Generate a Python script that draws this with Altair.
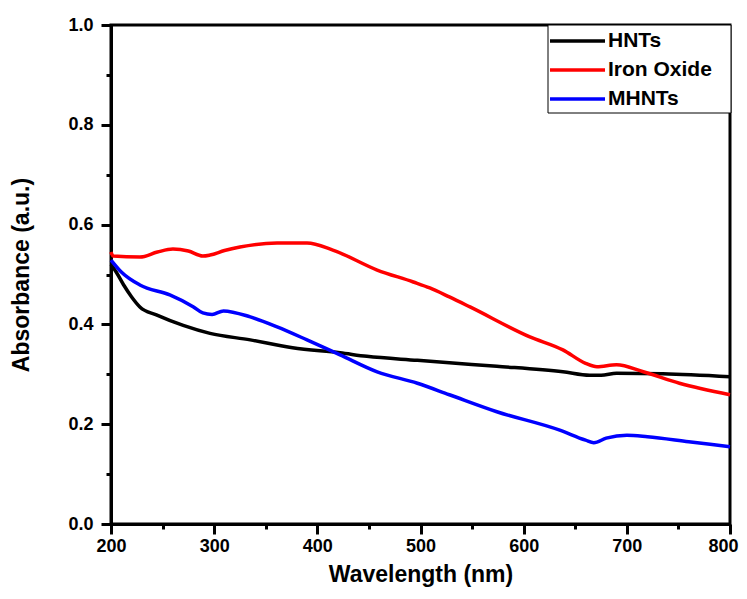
import altair as alt
import pandas as pd

series_names = ["HNTs", "Iron Oxide", "MHNTs"]
series_colors = ["#000000", "#ff0000", "#0000ff"]

hnts_x = [200, 205, 212, 220, 228, 244, 270, 296, 335, 376, 422, 448, 497, 528, 574, 638, 664, 675, 690, 735, 800]
hnts_y = [0.52, 0.505, 0.48, 0.455, 0.435, 0.419, 0.398, 0.382, 0.369, 0.353, 0.343, 0.336, 0.328, 0.323, 0.316, 0.305, 0.298, 0.298, 0.302, 0.301, 0.295]

iron_x = [200, 202, 228, 245, 260, 275, 289, 296, 310, 325, 361, 390, 415, 458, 493, 509, 528, 548, 606, 638, 660, 671, 690, 716, 751, 800]
iron_y = [0.545, 0.537, 0.535, 0.545, 0.551, 0.547, 0.537, 0.539, 0.548, 0.555, 0.563, 0.563, 0.549, 0.509, 0.485, 0.473, 0.455, 0.435, 0.375, 0.349, 0.322, 0.315, 0.319, 0.305, 0.282, 0.259]

mhnts_x = [200, 210, 228, 257, 280, 289, 298, 309, 335, 361, 390, 422, 458, 497, 528, 574, 635, 660, 668, 680, 700, 720, 760, 800]
mhnts_y = [0.529, 0.505, 0.479, 0.459, 0.435, 0.423, 0.42, 0.427, 0.415, 0.395, 0.369, 0.339, 0.305, 0.282, 0.259, 0.225, 0.188, 0.168, 0.163, 0.172, 0.178, 0.175, 0.165, 0.155]

x_major = [200, 300, 400, 500, 600, 700, 800]
x_minor = [250, 350, 450, 550, 650, 750]
y_major = [0.0, 0.2, 0.4, 0.6, 0.8, 1.0]
y_minor = [0.1, 0.3, 0.5, 0.7, 0.9]

rows = []
for name, xs, ys in zip(series_names, [hnts_x, iron_x, mhnts_x], [hnts_y, iron_y, mhnts_y]):
    for xv, yv in zip(xs, ys):
        rows.append({"series": name, "wl": xv, "abs": yv})
df = pd.DataFrame(rows)
df_leg = pd.DataFrame({"series": series_names})

FONT = "Liberation Sans"
color_scale = alt.Scale(domain=series_names, range=series_colors)
x_scale = alt.Scale(domain=[200, 800], nice=False, zero=False)
y_scale = alt.Scale(domain=[0, 1], nice=False)

lines = alt.Chart(df).mark_line(strokeWidth=3.5, interpolate="monotone").encode(
    x=alt.X("wl:Q", title="Wavelength (nm)", scale=x_scale,
            axis=alt.Axis(values=x_major, format="d", tickSize=10, orient="bottom",
                          labelOverlap=False, labelFlush=False, grid=False,
                          labelAlign={"condition": {"test": "datum.value === 800", "value": "right"},
                                      "value": "center"},
                          labelOffset={"condition": {"test": "datum.value === 800", "value": 8},
                                       "value": 0},
                          labelPadding=3, titlePadding=8)),
    y=alt.Y("abs:Q", title="Absorbance (a.u.)", scale=y_scale,
            axis=alt.Axis(values=y_major, format=".1f", tickSize=10, orient="left",
                          labelOverlap=False, labelFlush=False, grid=False,
                          labelPadding=8, titlePadding=34)),
    color=alt.Color("series:N", scale=color_scale, legend=None),
    order=alt.Order("wl:Q"),
)

minor = alt.Chart(df).mark_line(opacity=0).encode(
    x=alt.X("wl:Q", title="", scale=x_scale,
            axis=alt.Axis(values=x_minor, tickSize=5, labels=False, domain=False,
                          grid=False, orient="bottom")),
    y=alt.Y("abs:Q", title="", scale=y_scale,
            axis=alt.Axis(values=y_minor, tickSize=5, labels=False, domain=False,
                          grid=False, orient="left")),
    detail="series:N",
)

box = alt.Chart(df_leg).mark_rect(fill="white", stroke="black", strokeWidth=1).encode(
    x=alt.value(437), x2=alt.value(620), y=alt.value(0), y2=alt.value(88)
).transform_filter("datum.series === 'HNTs'")

leg_y = alt.Y("series:N", scale=alt.Scale(type="point", domain=series_names,
                                          range=[16, 74], padding=0), axis=None)

leg_lines = alt.Chart(df_leg).mark_rule(strokeWidth=3.5).encode(
    x=alt.value(439), x2=alt.value(494), y=leg_y,
    color=alt.Color("series:N", scale=color_scale, legend=None),
)
leg_text = alt.Chart(df_leg).mark_text(align="left", baseline="middle", font=FONT,
                                       fontWeight="bold", fontSize=21, color="black").encode(
    x=alt.value(497), y=leg_y, text="series:N"
)

chart = alt.layer(lines, minor, box, leg_lines, leg_text).resolve_scale(
    y="independent"
).resolve_axis(x="independent", y="independent").properties(
    width=619, height=499,
    autosize=alt.AutoSizeParams(type="none"),
    padding={"left": 103, "top": 17, "right": 9, "bottom": 66},
).configure_view(stroke="black", strokeWidth=3).configure_axis(
    domainColor="black", domainWidth=3, tickColor="black", tickWidth=3,
    labelFont=FONT, labelFontWeight="bold", labelFontSize=18, labelColor="black",
    titleFont=FONT, titleFontWeight="bold", titleFontSize=23, titleColor="black",
)

chart.save("out.html", embed_options={"renderer": "svg", "actions": False})
